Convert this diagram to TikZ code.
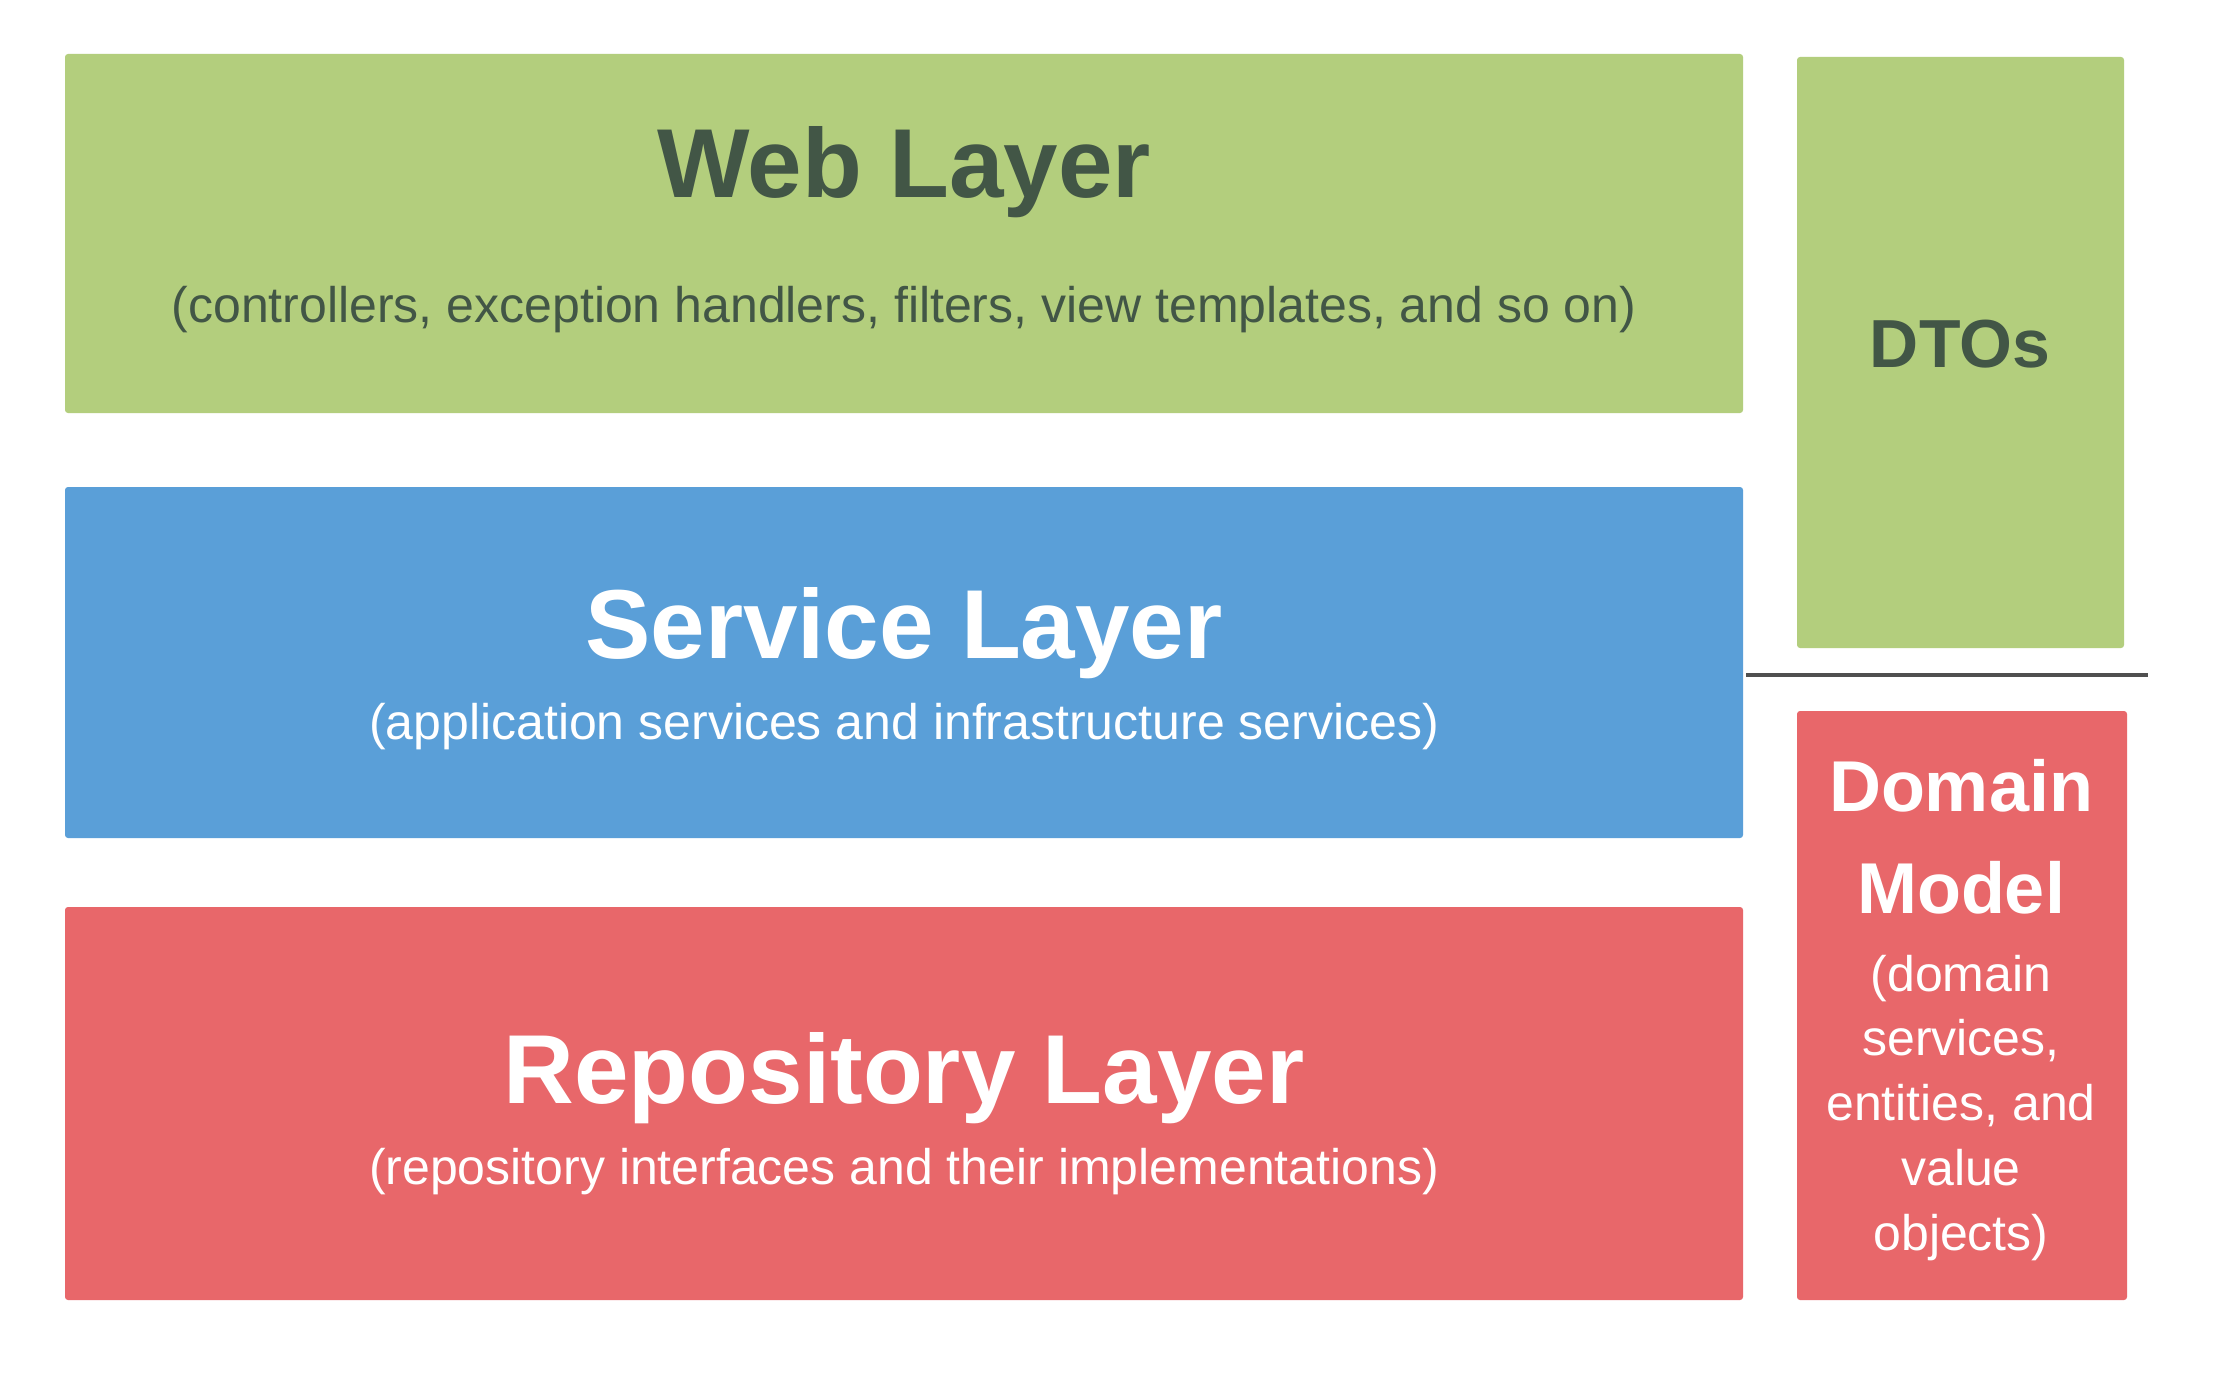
\documentclass[tikz,border=0pt]{standalone}
\usepackage{fontspec}
\setmainfont{Liberation Sans}
\definecolor{webgreen}{HTML}{B3CE7D}
\definecolor{svcblue}{HTML}{5A9FD8}
\definecolor{repored}{HTML}{E8676A}
\definecolor{darktext}{HTML}{425646}
\definecolor{rule}{HTML}{505050}
\tikzset{
  box/.style={rounded corners=1.5pt, inner sep=0pt, outer sep=0pt, anchor=north west},
  title/.style={anchor=base, inner sep=0pt, font=\fontsize{49pt}{49pt}\selectfont\bfseries},
  sub/.style={anchor=base, inner sep=0pt, font=\fontsize{25pt}{25pt}\selectfont},
  sidetitle/.style={anchor=base, inner sep=0pt, font=\fontsize{36pt}{36pt}\selectfont\bfseries},
}
\begin{document}
\begin{tikzpicture}[x=0.5pt,y=-0.5pt]
\useasboundingbox[fill=white] (0,0) rectangle (2220,1374);
% boxes
\node[box, fill=webgreen, minimum width=839pt, minimum height=179.5pt] (web) at (65,54) {};
\node[box, fill=svcblue, minimum width=839pt, minimum height=175.5pt] (service) at (65,487) {};
\node[box, fill=repored, minimum width=839pt, minimum height=196.5pt] (repo) at (65,907) {};
\node[box, fill=webgreen, minimum width=163.5pt, minimum height=295.5pt] (dtos) at (1797,57) {};
\node[box, fill=repored, minimum width=165pt, minimum height=294.5pt] (domain) at (1797,711) {};
% texts
\node[title, text=darktext] (webt) at (904,198) {Web Layer};
\node[sub, text=darktext] (webs) at (904,323) {(controllers, exception handlers, filters, view templates, and so on)};
\node[title, text=white] (svct) at (904,658) {Service Layer};
\node[sub, text=white] (svcs) at (904,739) {(application services and infrastructure services)};
\node[title, text=white] (repot) at (904,1103) {Repository Layer};
\node[sub, text=white] (repos) at (904,1184) {(repository interfaces and their implementations)};
\node[sidetitle, text=darktext, font=\fontsize{34pt}{34pt}\selectfont\bfseries] (dtot) at (1960,367) {DTOs};
\node[sidetitle, text=white] (dm1) at (1961,811) {Domain};
\node[sidetitle, text=white] (dm2) at (1961,913) {Model};
\node[sub, text=white] (dm3) at (1961,991) {(domain};
\node[sub, text=white] (dm4) at (1961,1055) {services,};
\node[sub, text=white] (dm5) at (1961,1120) {entities, and};
\node[sub, text=white] (dm6) at (1961,1185) {value};
\node[sub, text=white] (dm7) at (1961,1250) {objects)};
% separator line
\coordinate (sepA) at (1746,675);
\coordinate (sepB) at (2148,675);
\draw[rule, line width=1.6pt] (sepA) -- (sepB);
\end{tikzpicture}
\end{document}
